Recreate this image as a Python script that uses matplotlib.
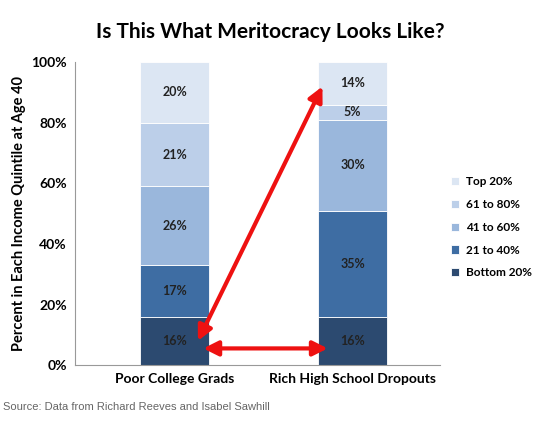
import matplotlib.pyplot as plt
import numpy as np

plt.rcParams['font.family'] = ['Lato', 'DejaVu Sans']

categories = ["Poor College Grads", "Rich High School Dropouts"]
series = ["Bottom 20%", "21 to 40%", "41 to 60%", "61 to 80%", "Top 20%"]
values = {
    "Bottom 20%": [16, 16],
    "21 to 40%": [17, 35],
    "41 to 60%": [26, 30],
    "61 to 80%": [21, 5],
    "Top 20%": [20, 14],
}
colors = ["#2c4a70", "#3e6da3", "#9ab7dc", "#bccfe9", "#dce6f3"]

fig = plt.figure(figsize=(5.41, 4.29), dpi=100)
ax = fig.add_axes([0.139, 0.149, 0.674, 0.706])
x = np.arange(len(categories))
bottom = np.zeros(len(categories))
for s, c in zip(series, colors):
    v = np.array(values[s], dtype=float)
    ax.bar(x, v, 0.39, bottom=bottom, color=c, label=s, edgecolor="white", linewidth=0.6)
    for xi, vi, bi in zip(x, v, bottom):
        ax.text(xi, bi + vi / 2, f"{int(vi)}%", ha="center", va="center",
                fontsize=9, fontweight="bold", color="#222222")
    bottom += v

ax.set_xlim(-0.56, 1.49)
ax.set_ylim(0, 100)
ax.set_yticks(range(0, 101, 20))
ax.set_yticklabels([f"{t}%" for t in range(0, 101, 20)], fontsize=10, fontweight="bold")
ax.set_xticks(x)
ax.set_xticklabels(categories, fontsize=10, fontweight="bold")
ax.tick_params(length=0, pad=6)
for sp in ["top", "right"]:
    ax.spines[sp].set_visible(False)
for sp in ["left", "bottom"]:
    ax.spines[sp].set_color("#999999")
ax.set_ylabel("Percent in Each Income Quintile at Age 40", fontsize=10.5, fontweight="bold")

arrow = dict(arrowstyle="<|-|>", color="#ee1111", lw=3, mutation_scale=22, shrinkA=0, shrinkB=0)
ax.annotate("", xy=(0.13, 8), xytext=(0.83, 92), arrowprops=arrow)
ax.annotate("", xy=(0.16, 5.5), xytext=(0.86, 5.5), arrowprops=arrow)

h, l = ax.get_legend_handles_labels()
fig.legend(h[::-1], l[::-1], loc="center left", bbox_to_anchor=(0.82, 0.47), frameon=False,
           prop={"size": 8.5, "weight": "bold"}, handlelength=0.7, handleheight=0.7,
           labelspacing=1.0, handletextpad=0.6, borderaxespad=0.2)

fig.text(0.5, 0.925, "Is This What Meritocracy Looks Like?", ha="center", va="center",
         fontsize=15, fontweight="bold")
fig.text(0.005, 0.045, "Source: Data from Richard Reeves and Isabel Sawhill", fontsize=8,
         color="#666666", family=["Liberation Sans", "DejaVu Sans"])
fig.savefig("out.png", dpi=100)
